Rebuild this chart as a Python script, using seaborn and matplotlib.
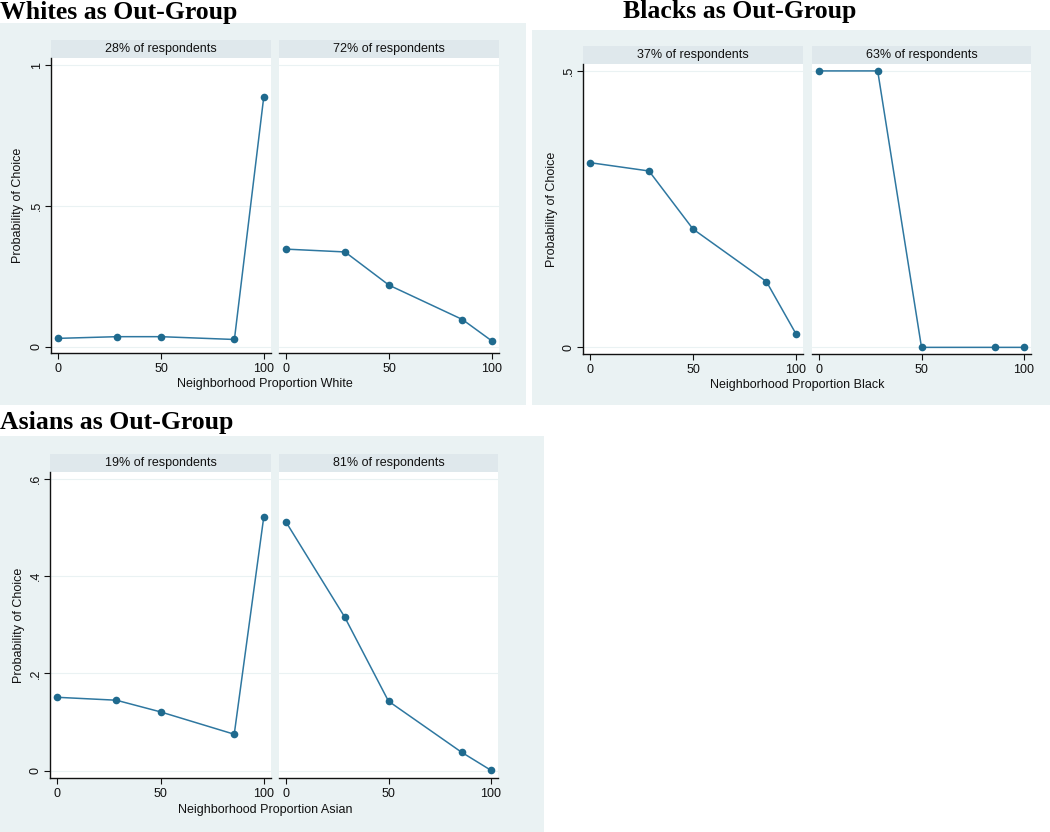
import numpy as np
import pandas as pd
import matplotlib
matplotlib.use("Agg")
import matplotlib.pyplot as plt
from matplotlib.patches import Rectangle
import seaborn as sns

# neighborhood composition shown on the cards (percent of out-group)
proportion = [0, 28.6, 50, 85.7, 100]

white_low = [0.030, 0.036, 0.036, 0.026, 0.889]
white_high = [0.347, 0.337, 0.219, 0.097, 0.021]
white_shares = ["28% of respondents", "72% of respondents"]

black_low = [0.334, 0.319, 0.214, 0.119, 0.025]
black_high = [0.500, 0.500, 0.000, 0.000, 0.000]
black_shares = ["37% of respondents", "63% of respondents"]

asian_low = [0.151, 0.145, 0.121, 0.075, 0.522]
asian_high = [0.511, 0.316, 0.143, 0.038, 0.001]
asian_shares = ["19% of respondents", "81% of respondents"]

W, H = 1050, 832
BG = "#eaf2f3"
STRIP = "#dfe8ec"
NAVY = "#1f6a8e"
LINE = "#2e77a0"


def fig_box(x0, y0, x1, y1):
    return [x0 / W, 1 - y1 / H, (x1 - x0) / W, (y1 - y0) / H]


def draw_group(fig, title, title_xy, bg, boxes, series, shares, ylim, yticks,
               yticklabels, xlabel, xlabel_xy, ylabel_x):
    x0, y0, x1, y1 = bg
    fig.patches.append(Rectangle((x0 / W, 1 - y1 / H), (x1 - x0) / W, (y1 - y0) / H,
                                 transform=fig.transFigure, facecolor=BG,
                                 edgecolor="none", zorder=-10))
    fig.text(title_xy[0] / W, 1 - title_xy[1] / H, title, family="Liberation Serif",
             weight="bold", fontsize=18.5, ha="left", va="baseline", color="black")

    for i, (box, vals, share) in enumerate(zip(boxes, series, shares)):
        bx0, by0, bx1, by1 = box
        # strip header
        sh = 18
        fig.patches.append(Rectangle((bx0 / W, 1 - by0 / H), (bx1 - bx0) / W, sh / H,
                                     transform=fig.transFigure, facecolor=STRIP,
                                     edgecolor="none", zorder=-5))
        fig.text((bx0 + bx1) / 2 / W, 1 - (by0 - sh / 2) / H, share, ha="center",
                 va="center", fontsize=9, color="#111111")

        ax = fig.add_axes(fig_box(*box))
        ax.set_facecolor("white")
        df = pd.DataFrame({"x": proportion, "y": vals})
        sns.lineplot(data=df, x="x", y="y", ax=ax, color=LINE, linewidth=1.1,
                     marker="o", markersize=5.5, markerfacecolor=NAVY,
                     markeredgewidth=0)
        ax.set_xlim(-3.5, 103.5)
        ax.set_ylim(*ylim)
        for t in yticks:
            ax.axhline(t, color=BG, linewidth=0.8, zorder=0)
        ax.set_xticks([0, 50, 100])
        ax.set_xticklabels(["0", "50", "100"], fontsize=9)
        ax.set_xlabel("")
        ax.set_ylabel("")
        for s in ["top", "right"]:
            ax.spines[s].set_visible(False)
        ax.spines["bottom"].set_color("#111111")
        ax.spines["bottom"].set_linewidth(1.0)
        ax.tick_params(axis="x", direction="out", length=4, width=0.8, pad=3,
                       color="#111111", labelcolor="#111111", bottom=True)
        if i == 0:
            ax.spines["left"].set_color("#111111")
            ax.spines["left"].set_linewidth(1.0)
            ax.set_yticks(yticks)
            ax.set_yticklabels(yticklabels, fontsize=9, rotation=90, va="center")
            ax.tick_params(axis="y", direction="out", length=4, width=0.8, pad=2,
                           color="#111111", labelcolor="#111111", left=True)
        else:
            ax.spines["left"].set_visible(False)
            ax.set_yticks(yticks)
            ax.set_yticklabels([])
            ax.tick_params(axis="y", length=0)

    fig.text(xlabel_xy[0] / W, 1 - xlabel_xy[1] / H, xlabel, ha="center",
             va="center", fontsize=9, color="#111111")
    top = boxes[0][1]
    bot = boxes[0][3]
    fig.text(ylabel_x / W, 1 - (top + bot) / 2 / H, "Probability of Choice",
             ha="center", va="center", rotation=90, fontsize=9, color="#111111")


def main():
    sns.set_theme(style="white")
    plt.rcParams["font.family"] = ["Liberation Sans", "DejaVu Sans"]

    fig = plt.figure(figsize=(W / 100, H / 100), dpi=100)
    fig.patch.set_facecolor("white")

    draw_group(fig, "Whites as Out-Group", (0, 19), (0, 23, 526, 405),
               [(51, 58, 271, 353), (279, 58, 499, 353)],
               [white_low, white_high], white_shares,
               (-0.022, 1.026), [0, 0.5, 1], ["0", ".5", "1"],
               "Neighborhood Proportion White", (265, 384), 18)

    draw_group(fig, "Blacks as Out-Group", (623, 18), (532, 30, 1050, 405),
               [(583, 64, 803, 354), (812, 64, 1031, 354)],
               [black_low, black_high], black_shares,
               (-0.012, 0.5125), [0, 0.5], ["0", ".5"],
               "Neighborhood Proportion Black", (797, 385), 552)

    draw_group(fig, "Asians as Out-Group", (0, 429), (0, 436, 544, 832),
               [(50, 472, 271, 778), (279, 472, 498, 778)],
               [asian_low, asian_high], asian_shares,
               (-0.015, 0.6144), [0, 0.2, 0.4, 0.6], ["0", ".2", ".4", ".6"],
               "Neighborhood Proportion Asian", (265, 810), 19)

    fig.savefig("out.png", dpi=100, facecolor="white")


if __name__ == "__main__":
    main()
